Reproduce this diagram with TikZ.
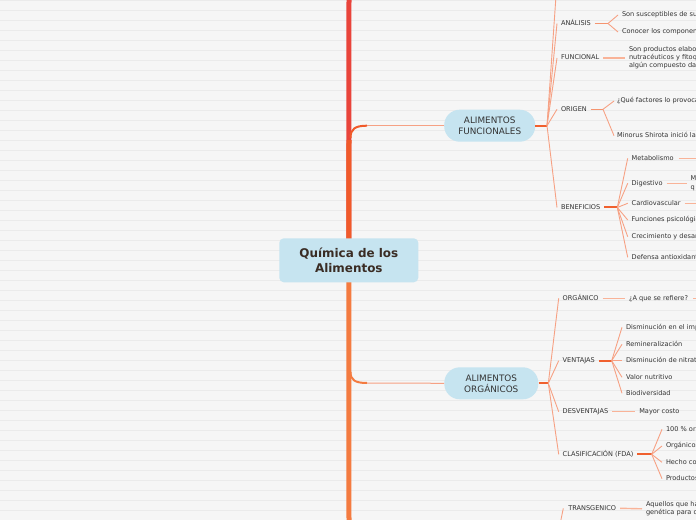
\documentclass[tikz,border=0pt]{standalone}
\usepackage{fontspec}
\setmainfont{DejaVu Sans}
\definecolor{bg}{HTML}{F6F6F6}
\definecolor{gridc}{HTML}{EBEBEB}
\definecolor{nodeblue}{HTML}{C6E4F0}
\definecolor{txt}{HTML}{333333}
\definecolor{ttl}{HTML}{3A2C24}
\definecolor{trunkred}{HTML}{E9443B}
\definecolor{trunkored}{HTML}{F05A2A}
\definecolor{trunkorng}{HTML}{F47B40}
\definecolor{fanc}{HTML}{F6A184}
\definecolor{stubc}{HTML}{F0602E}
\definecolor{stublight}{HTML}{F5946F}
\definecolor{leafc}{HTML}{F9B398}
\begin{document}
\begin{tikzpicture}[x=1bp,y=-1bp,
  lab/.style={anchor=west, inner sep=0pt, outer sep=0pt, text=txt,
    font=\fontsize{6.6}{8.3}\selectfont, text height=4.9bp, text depth=1.4bp},
  mlab/.style={anchor=west, inner sep=0pt, outer sep=0pt, text=txt,
    font=\fontsize{6.6}{8.2}\selectfont, align=left},
  bnode/.style={rectangle, rounded corners=15.5bp, fill=nodeblue, text=txt,
    minimum height=32bp, inner sep=0pt, align=center,
    font=\fontsize{8.9}{11}\selectfont},
  rootnode/.style={rectangle, rounded corners=4.5bp, fill=nodeblue, text=ttl,
    minimum width=139bp, minimum height=44bp, inner sep=0pt, align=center,
    font=\fontsize{12}{14.5}\selectfont\bfseries},
  fan/.style={draw=fanc, line width=0.9bp},
  stub/.style={draw=stubc, line width=2bp},
  stubl/.style={draw=stublight, line width=1.5bp},
  leaf/.style={draw=leafc, line width=1.4bp},
  conn/.style={draw=fanc, line width=1bp}
]
\useasboundingbox (0,0) rectangle (696,520);
\fill[bg] (0,0) rectangle (696,520);
\foreach \k in {0,...,52} \draw[gridc, line width=0.9bp] (0,{\k*10+0.5}) -- (696,{\k*10+0.5});

% coordinates
\coordinate (rc) at (348.8,260.3);
\coordinate (topend) at (349,-5);
\coordinate (botend) at (349,525);
\coordinate (k1) at (349,140);
\coordinate (c1s) at (350.5,138);
\coordinate (c1e) at (367,125.7);
\coordinate (k2) at (349,372);
\coordinate (c2s) at (350.5,372);
\coordinate (c2e) at (367,383);

% trunk
\draw[trunkred, line width=5bp] (rc) -- (topend);
\draw[trunkored, line width=5bp] (rc) -- (k1);
\draw[trunkored, line width=2bp] (c1s) .. controls (350.5,129) and (355,125.7) .. (c1e);
\draw[trunkorng, line width=5bp] (rc) -- (botend);
\draw[trunkorng, line width=2bp] (c2s) .. controls (350.5,380) and (355,383) .. (c2e);

% main nodes
\node[rootnode] (root) at (rc) {Química de los\\Alimentos};
\node[bnode, minimum width=91bp] (n1) at (489.7,125.7) {ALIMENTOS\\FUNCIONALES};
\node[bnode, minimum width=94bp] (n2) at (491.3,383.3) {ALIMENTOS\\ORGÁNICOS};
\draw[conn] (c1e) -- (n1.west);
\draw[conn] (c2e) -- (n2.west);

% ---------- branch 1
\coordinate (h1) at (547,125.7);
\coordinate (u1) at (556,-4);
\draw[stub] (n1.east) -- (h1);
\draw[fan] (h1) -- (u1);
\node[lab] (a1) at (561,23.5) {ANÁLISIS};
\node[lab] (a2) at (561,58) {FUNCIONAL};
\node[lab] (a3) at (561,109.3) {ORIGEN};
\node[lab] (a4) at (561,207.5) {BENEFICIOS};
\foreach \n in {a1,a2,a3,a4} \draw[fan] (h1) -- ([xshift=-4bp]\n.west);

\coordinate (ha1) at (608,23.5);
\node[lab] (b1) at (622,15) {Son susceptibles de su};
\node[lab] (b2) at (622,32) {Conocer los componen};
\draw[stubl] ([xshift=4bp]a1.east) -- (ha1);
\foreach \n in {b1,b2} \draw[fan] (ha1) -- ([xshift=-4bp]\n.west);

\node[mlab] (b3) at (629,58) {Son productos elabo\\nutracéuticos y fitoq\\algún compuesto da};
\draw[leaf] ([xshift=4bp]a2.east) -- ([xshift=-4bp]b3.west);

\coordinate (ha3) at (603,109.3);
\node[lab] (b4) at (617,101) {¿Qué factores lo provoca};
\node[lab] (b5) at (617,135.7) {Minorus Shirota inició la};
\draw[stubl] ([xshift=4bp]a3.east) -- (ha3);
\foreach \n in {b4,b5} \draw[fan] (ha3) -- ([xshift=-3bp]\n.west);

\coordinate (ha4) at (617.3,207.5);
\draw[stub] ([xshift=4bp]a4.east) -- (ha4);
\node[lab] (c1) at (631.7,158.3) {Metabolismo};
\node[lab] (c2) at (631.7,183.3) {Digestivo};
\node[lab] (c3) at (631.7,203.3) {Cardiovascular};
\node[lab] (c4) at (631.7,220) {Funciones psicológic};
\node[lab] (c5) at (631.7,236.7) {Crecimiento y desar};
\node[lab] (c6) at (631.7,257.3) {Defensa antioxidant};
\foreach \n in {c1,c2,c3,c4,c5,c6} \draw[fan] (ha4) -- ([xshift=-4bp]\n.west);
\coordinate (x1) at (700,158.3);
\coordinate (x3) at (700,203.3);
\draw[leaf] ([xshift=5bp]c1.east) -- (x1);
\draw[leaf] ([xshift=4bp]c3.east) -- (x3);
\node[mlab] (d2) at (690.7,183.3) {M\\q};
\draw[leaf] ([xshift=4bp]c2.east) -- ([xshift=-4bp]d2.west);

% ---------- branch 2
\coordinate (h2) at (548.3,383.3);
\draw[stub] (n2.east) -- (h2);
\node[lab] (e1) at (562.7,298.3) {ORGÁNICO};
\node[lab] (e2) at (562.7,360.7) {VENTAJAS};
\node[lab] (e3) at (562.7,411.7) {DESVENTAJAS};
\node[lab] (e4) at (562.7,454.3) {CLASIFICACIÓN (FDA)};
\foreach \n in {e1,e2,e3,e4} \draw[fan] (h2) -- ([xshift=-4bp]\n.west);

\node[lab] (f1) at (629,298.3) {¿A que se refiere?};
\draw[leaf] ([xshift=4bp]e1.east) -- ([xshift=-4bp]f1.west);
\coordinate (x5) at (700,298.3);
\draw[leaf] ([xshift=5bp]f1.east) -- (x5);

\coordinate (he2) at (611.7,360.7);
\draw[stub] ([xshift=4bp]e2.east) -- (he2);
\node[lab] (g1) at (626,327.3) {Disminución en el imp};
\node[lab] (g2) at (626,344.3) {Remineralización};
\node[lab] (g3) at (626,360.7) {Disminución de nitrat};
\node[lab] (g4) at (626,377.3) {Valor nutritivo};
\node[lab] (g5) at (626,393.3) {Biodiversidad};
\foreach \n in {g1,g2,g3,g4,g5} \draw[fan] (he2) -- ([xshift=-4bp]\n.west);

\node[lab] (f3) at (639.3,411.7) {Mayor costo};
\draw[leaf] ([xshift=4bp]e3.east) -- ([xshift=-4bp]f3.west);

\coordinate (he4) at (651.7,454.3);
\draw[stub] ([xshift=4bp]e4.east) -- (he4);
\node[lab] (k1n) at (666,429.3) {100 \% or};
\node[lab] (k2n) at (666,446) {Orgánicos};
\node[lab] (k3n) at (666,462.3) {Hecho co};
\node[lab] (k4n) at (666,478.7) {Productos};
\foreach \n in {k1n,k2n,k3n,k4n} \draw[fan] (he4) -- ([xshift=-4bp]\n.west);

% ---------- branch 3 (partly visible)
\coordinate (h3) at (548,583);
\node[lab] (t3) at (568.3,508.3) {TRANSGENICO};
\draw[fan] (h3) -- ([xshift=-5bp]t3.west);
\node[mlab] (t4) at (646,508.8) {Aquellos que ha\\genética para o};
\draw[leaf] ([xshift=4bp]t3.east) -- ([xshift=-4bp]t4.west);
\end{tikzpicture}
\end{document}
